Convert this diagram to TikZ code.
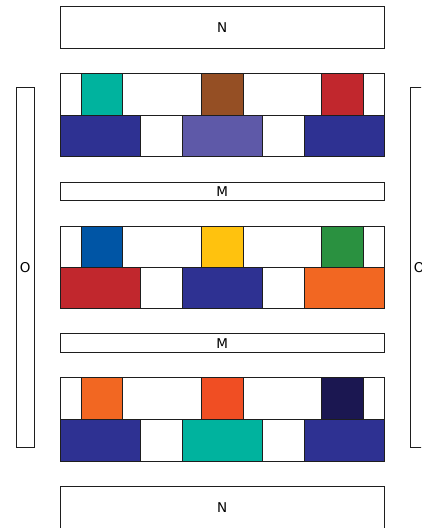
\documentclass[tikz,border=0pt]{standalone}
\usepackage{fontspec}
\setmainfont{DejaVu Sans}
\definecolor{cteal}{HTML}{00B39E}
\definecolor{cbrown}{HTML}{954F24}
\definecolor{cred}{HTML}{C1272D}
\definecolor{cnavy}{HTML}{2E3192}
\definecolor{cpurple}{HTML}{5E59A8}
\definecolor{cblue}{HTML}{0055A5}
\definecolor{cyellow}{HTML}{FFC20E}
\definecolor{cgreen}{HTML}{2A9140}
\definecolor{corange}{HTML}{F26722}
\definecolor{credor}{HTML}{F04E23}
\definecolor{cdark}{HTML}{1B1751}
\definecolor{cline}{HTML}{1E1E1E}
\tikzset{cellbx/.style={draw=cline, line width=1pt, inner sep=0pt, outer sep=0pt, font=\fontsize{13.5}{15}\selectfont}}
\newcommand\cellbox[7]{\node[cellbx, fill=#6, minimum width={(#4-#2)*1pt}, minimum height={(#5-#3)*1pt}] (#1) at ({(#2+#4)/2},{(#3+#5)/2}) {#7};}
\newcommand\layerrow[6]{%
  \cellbox{#1strip}{60.3}{#2}{384}{#3}{white}{}
  \cellbox{#1a}{81.3}{#2}{122.7}{#3}{#4}{}
  \cellbox{#1b}{201.7}{#2}{243}{#3}{#5}{}
  \cellbox{#1c}{321.7}{#2}{363.3}{#3}{#6}{}
}
\begin{document}
\begin{tikzpicture}[x=1pt,y=-1pt]
\useasboundingbox (0,0) rectangle (421,528);
\clip (0,0) rectangle (421,528);
% side boxes
\cellbox{oleft}{16}{87.7}{34.3}{447.7}{white}{O}
\cellbox{oright}{410}{87.7}{428.3}{447.7}{white}{O}
% N boxes
\cellbox{ntop}{60.3}{6.3}{384}{48}{white}{N}
\cellbox{nbot}{60.3}{486.3}{384}{529}{white}{N}
% M boxes
\cellbox{mone}{60.3}{182.3}{384}{200.7}{white}{M}
\cellbox{mtwo}{60.3}{333.7}{384}{352.7}{white}{M}
% row 1
\layerrow{ra}{73.3}{115}{cteal}{cbrown}{cred}
\cellbox{raL}{60.3}{115}{140.3}{156.7}{cnavy}{}
\cellbox{raW1}{140.3}{115}{182.7}{156.7}{white}{}
\cellbox{raM}{182.7}{115}{262.3}{156.7}{cpurple}{}
\cellbox{raW2}{262.3}{115}{304.3}{156.7}{white}{}
\cellbox{raR}{304.3}{115}{384}{156.7}{cnavy}{}
% row 2
\layerrow{rb}{226}{267}{cblue}{cyellow}{cgreen}
\cellbox{rbL}{60.3}{267}{140.3}{308.7}{cred}{}
\cellbox{rbW1}{140.3}{267}{182.7}{308.7}{white}{}
\cellbox{rbM}{182.7}{267}{262.3}{308.7}{cnavy}{}
\cellbox{rbW2}{262.3}{267}{304.3}{308.7}{white}{}
\cellbox{rbR}{304.3}{267}{384}{308.7}{corange}{}
% row 3
\layerrow{rc}{377.7}{419.7}{corange}{credor}{cdark}
\cellbox{rcL}{60.3}{419.7}{140.3}{461.7}{cnavy}{}
\cellbox{rcW1}{140.3}{419.7}{182.7}{461.7}{white}{}
\cellbox{rcM}{182.7}{419.7}{262.3}{461.7}{cteal}{}
\cellbox{rcW2}{262.3}{419.7}{304.3}{461.7}{white}{}
\cellbox{rcR}{304.3}{419.7}{384}{461.7}{cnavy}{}
\end{tikzpicture}
\end{document}
